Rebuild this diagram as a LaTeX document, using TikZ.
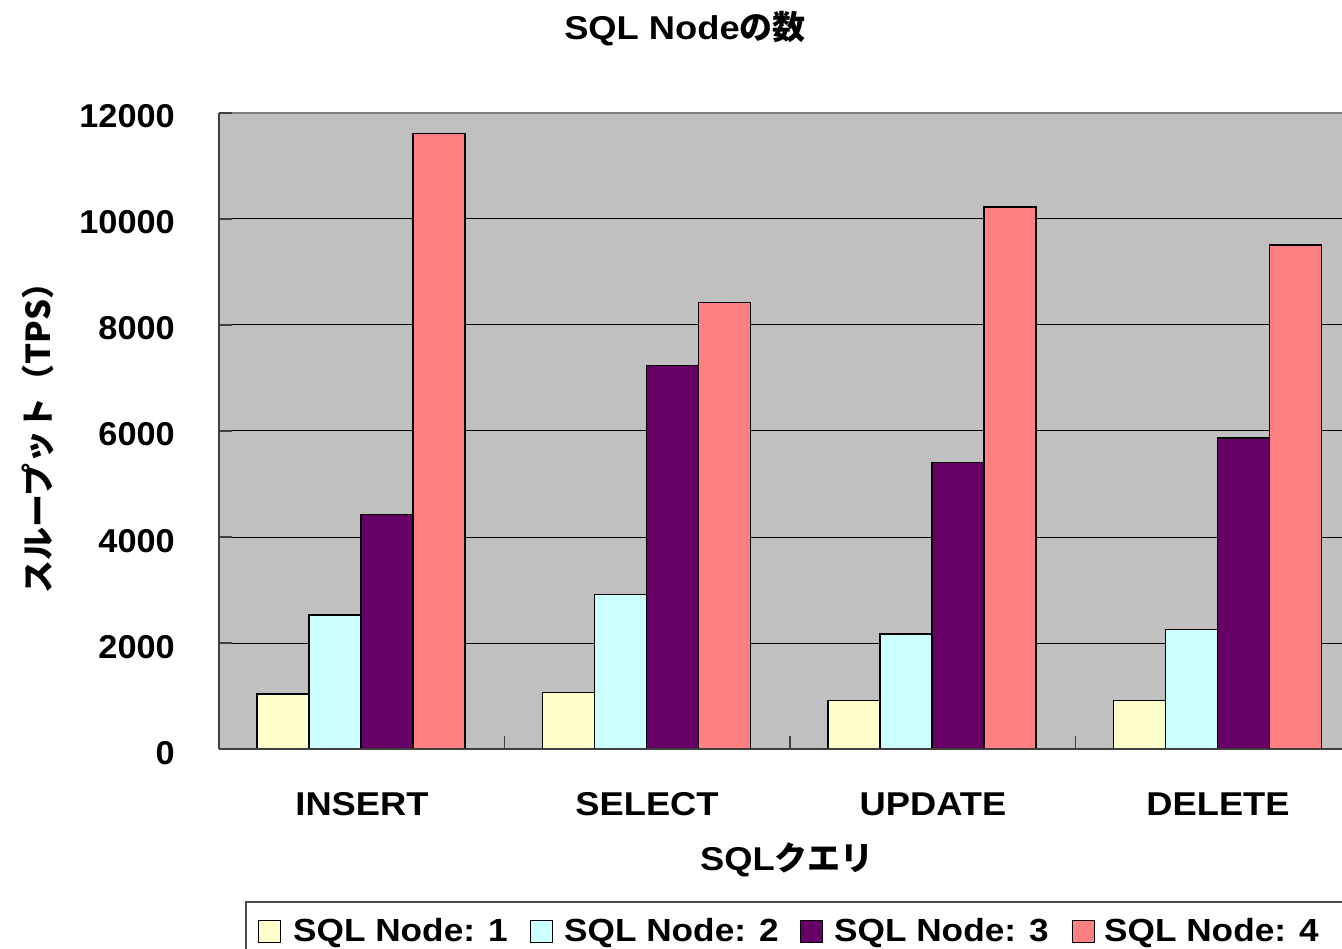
\documentclass[tikz,border=0pt]{standalone}
\usepackage{fontspec}
\setmainfont{Liberation Sans}[FakeStretch=1.1]
\newfontfamily\jp{Noto Sans CJK JP}
\newfontfamily\numf{Liberation Sans}[FakeStretch=1.04]
\definecolor{plotbg}{HTML}{C0C0C0}
\definecolor{sone}{HTML}{FFFFCC}
\definecolor{stwo}{HTML}{CCFFFF}
\definecolor{sthree}{HTML}{660066}
\definecolor{sfour}{HTML}{FF8080}
\newcommand\vbar[3]{\filldraw[barst, fill=#3] (#1,749) rectangle ({#1+52},{749-#2*0.053});}
\tikzset{
  lbl/.style={font=\fontsize{33}{39}\selectfont\bfseries, inner sep=0pt},
  leglbl/.style={font=\fontsize{32}{38}\selectfont\bfseries, inner sep=0pt, anchor=base west},
  ticklbl/.style={font=\fontsize{33}{39}\selectfont\bfseries\numf, inner sep=0pt, anchor=base east},
  barst/.style={draw=black, line width=1.3pt},
  grid/.style={draw=black, line width=1pt},
  swatch/.style={draw=black, line width=1pt}
}
\begin{document}
\begin{tikzpicture}[x=1pt, y=-1pt]
\useasboundingbox (0,0) rectangle (1342,949);
\fill[white] (0,0) rectangle (1342,949);
\begin{scope}
\clip (0,0) rectangle (1342,949);
% plot area
\fill[plotbg] (219,113) rectangle (1361,749);
\draw[draw=gray, line width=1.5pt] (219,113) -- (1361,113);
\foreach \yy in {643,537,431,325,219} {\draw[grid] (219,\yy) -- (1361,\yy);}
% bars
\vbar{257}{1040}{sone}\vbar{309}{2530}{stwo}\vbar{361}{4430}{sthree}\vbar{413}{11620}{sfour}
\vbar{542.5}{1060}{sone}\vbar{594.5}{2910}{stwo}\vbar{646.5}{7240}{sthree}\vbar{698.5}{8430}{sfour}
\vbar{828}{910}{sone}\vbar{880}{2170}{stwo}\vbar{932}{5400}{sthree}\vbar{984}{10230}{sfour}
\vbar{1113.5}{910}{sone}\vbar{1165.5}{2250}{stwo}\vbar{1217.5}{5870}{sthree}\vbar{1269.5}{9510}{sfour}
% axes
\draw[draw=black!75, line width=1.5pt] (219,113) -- (219,749);
\draw[draw=black!75, line width=1.5pt] (219,749) -- (1361,749);
\foreach \yy in {113,219,325,431,537,643,749} {\draw[draw=black!75, line width=1.5pt] (219,\yy) -- (232,\yy);}
\foreach \xx in {504.5,790,1075.5} {\draw[draw=black!75, line width=1.5pt] (\xx,736) -- (\xx,749);}
% legend
\draw[draw=black!70, line width=1.5pt] (246,902) rectangle (1360,965);
\end{scope}
% tick labels
\node[ticklbl] (t0) at (175,764) {0};
\node[ticklbl] (t1) at (175,658) {2000};
\node[ticklbl] (t2) at (175,552) {4000};
\node[ticklbl] (t3) at (175,446) {6000};
\node[ticklbl] (t4) at (175,340) {8000};
\node[ticklbl] (t5) at (175,234) {10000};
\node[ticklbl] (t6) at (175,128) {12000};
% category labels
\node[lbl, anchor=base] (c1) at (362,815) {INSERT};
\node[lbl, anchor=base] (c2) at (647,815) {SELECT};
\node[lbl, anchor=base] (c3) at (933,815) {UPDATE};
\node[lbl, anchor=base] (c4) at (1218,815) {DELETE};
% axis titles
\node[lbl, anchor=base] (xt) at (787,870) {SQL{\jp クエリ}};
\node[lbl, anchor=base] (tt) at (685,40) {SQL Node{\jp の数}};
\node[lbl, rotate=90] (yt) at (38,430) {\jp スループット（TPS）};
% legend entries
\filldraw[swatch, fill=sone] (258,920) rectangle (280,942);
\filldraw[swatch, fill=stwo] (530,920) rectangle (552,942);
\filldraw[swatch, fill=sthree] (800,920) rectangle (822,942);
\filldraw[swatch, fill=sfour] (1072,920) rectangle (1094,942);
\node[leglbl] (l1) at (293,941) {SQL Node: 1};
\node[leglbl] (l2) at (564,941) {SQL Node: 2};
\node[leglbl] (l3) at (834,941) {SQL Node: 3};
\node[leglbl] (l4) at (1104,941) {SQL Node: 4};
\end{tikzpicture}
\end{document}
